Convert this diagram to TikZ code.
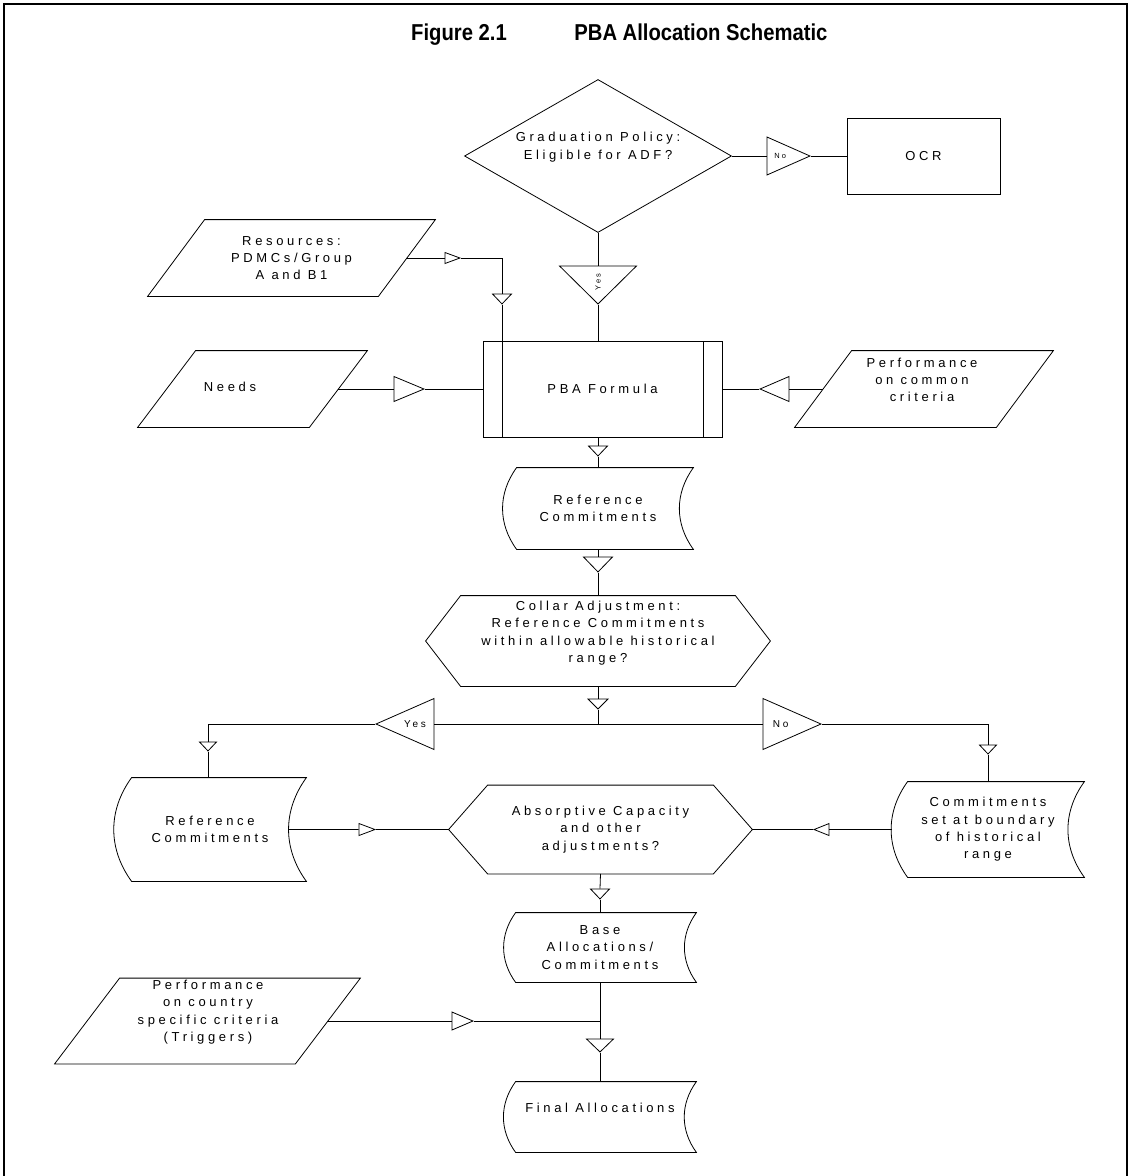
\documentclass[tikz,border=0pt]{standalone}
\usepackage{fontspec}
\setmainfont{Liberation Sans}
\newfontfamily\boxfont{Liberation Sans}[LetterSpace=28]
\newfontfamily\titlefont{Liberation Sans}[FakeStretch=0.88]
\usetikzlibrary{shapes.geometric}

\newcommand{\midlbl}{\boxfont\fontsize{10}{12}\selectfont}
\newcommand{\tinylbl}{\boxfont\fontsize{7.5}{9}\selectfont}
% stored data outline (node, bulge)
\newcommand{\storedbox}[2]{%
  \draw ([xshift=#2pt]#1.north west) to[bend right=36] ([xshift=#2pt]#1.south west)
    -- (#1.south east) to[bend left=36] coordinate[pos=.5] (#1-r) (#1.north east) -- cycle;}
% slanted data outline (node, slant)
\newcommand{\slantbox}[2]{%
  \draw (#1.south west) -- coordinate[pos=.5] (#1-l) ([xshift=#2pt]#1.north west)
    -- (#1.north east) -- coordinate[pos=.5] (#1-r) ([xshift=-#2pt]#1.south east) -- cycle;}
% hexagon outline (node, point depth)
\newcommand{\hexbox}[2]{%
  \draw (#1.west) -- ([xshift=#2pt]#1.north west) -- ([xshift=-#2pt]#1.north east)
    -- (#1.east) -- ([xshift=-#2pt]#1.south east) -- ([xshift=#2pt]#1.south west) -- cycle;}

\begin{document}
\begin{tikzpicture}[x=1pt,y=-1pt,line width=0.8pt,
  every node/.style={inner sep=0pt},
  txt/.style={font=\boxfont\fontsize{13}{17.3}\selectfont, align=center},
  plainbox/.style={txt, draw},
  process/.style={txt, draw, path picture={
    \draw ([xshift=19pt]path picture bounding box.north west) -- ([xshift=19pt]path picture bounding box.south west);
    \draw ([xshift=-19pt]path picture bounding box.north east) -- ([xshift=-19pt]path picture bounding box.south east);}},
  tri/.style={draw, fill=white, isosceles triangle, isosceles triangle stretches, inner sep=0pt},
  tri right/.style={tri, shape border rotate=0},
  tri left/.style={tri, shape border rotate=180},
  tri down/.style={tri, shape border rotate=270},
  figtitle/.style={font=\titlefont\bfseries\fontsize{23}{27}\selectfont}]
\useasboundingbox (0,0) rectangle (1130,1176);
\draw[line width=1.6pt] (4,1176) -- (4,4) -- (1127,4) -- (1127,1176);

\node[figtitle, anchor=base] (fig) at (459,40) {Figure 2.1};
\node[figtitle, anchor=base west] (ttl) at (574,40) {PBA Allocation Schematic};

% eligibility
\node[diamond, draw, minimum width=267pt, minimum height=153pt] (grad) at (598,156) {};
\node[txt] (gradtxt) at (598,147) {Graduation Policy:\\Eligible for ADF?};
\node[tri right, minimum width=38pt, minimum height=43pt, anchor=apex, font=\tinylbl] (no1) at (811,156) {No};
\node[plainbox, minimum width=153pt, minimum height=76pt] (ocr) at (923.5,156) {OCR};
\node[tri down, minimum width=77pt, minimum height=38pt, anchor=apex, font=\tinylbl] (yes1) at (598,305) {\rotatebox{90}{Yes}};

% inputs to the formula
\node[txt, minimum width=287pt, minimum height=76pt] (res) at (291.5,258) {Resources:\\PDMCs/Group\\A and B1};
\slantbox{res}{57}
\node[tri right, minimum width=11pt, minimum height=15pt, anchor=apex] (tres) at (461,258) {};
\node[tri down, minimum width=19pt, minimum height=10pt, anchor=apex] (tres2) at (502,305) {};

\node[process, minimum width=239pt, minimum height=96pt] (pba) at (602.5,389) {PBA Formula};

\node[minimum width=229pt, minimum height=76pt] (needs) at (252.5,389) {};
\slantbox{needs}{58}
\node[txt] (needstxt) at (230,387) {Needs};
\node[tri right, minimum width=25pt, minimum height=30pt, anchor=apex] (tneeds) at (425,389) {};

\node[minimum width=258pt, minimum height=76pt] (perf) at (924,389) {};
\slantbox{perf}{57}
\node[txt] (perftxt) at (922,380) {Performance\\on common\\criteria};
\node[tri left, minimum width=25pt, minimum height=29pt, anchor=apex] (tperf) at (759,389) {};

% reference and collar
\node[tri down, minimum width=19pt, minimum height=10pt, anchor=apex] (t1) at (598,457) {};
\node[txt, minimum width=190pt, minimum height=81pt] (refc) at (598,508.5) {Reference\\Commitments};
\storedbox{refc}{14}
\node[tri down, minimum width=29pt, minimum height=15pt, anchor=apex] (t2) at (598,573) {};
\node[minimum width=344pt, minimum height=90pt] (collar) at (598,641) {};
\hexbox{collar}{35}
\node[txt] (collartxt) at (598,633) {Collar Adjustment:\\Reference Commitments\\within allowable historical\\range?};
\node[tri down, minimum width=20pt, minimum height=10pt, anchor=apex] (t3) at (598,710) {};
\coordinate (split) at (598,724);
\node[tri left, minimum width=51pt, minimum height=58pt, anchor=apex, font=\midlbl] (yes2) at (375,724) {Yes};
\node[tri right, minimum width=51pt, minimum height=58pt, anchor=apex, font=\midlbl] (no2) at (822,724) {No};
\node[tri down, minimum width=17pt, minimum height=9pt, anchor=apex] (t4) at (208,752) {};
\node[tri down, minimum width=17pt, minimum height=9pt, anchor=apex] (t5) at (988,755) {};

% adjustments
\node[txt, minimum width=192pt, minimum height=103pt] (refc2) at (210,829.5) {Reference\\Commitments};
\storedbox{refc2}{18}
\node[minimum width=303pt, minimum height=88pt, txt] (abs) at (600.5,829.5) {Absorptive Capacity\\and other\\adjustments?};
\hexbox{abs}{39}
\node[txt, minimum width=192pt, minimum height=95pt] (bound) at (988,829.5) {Commitments\\set at boundary\\of historical\\range};
\storedbox{bound}{16}
\node[tri right, minimum width=12pt, minimum height=16pt, anchor=apex] (t6) at (376,829.5) {};
\node[tri left, minimum width=12pt, minimum height=15pt, anchor=apex] (t7) at (813,829.5) {};

% allocations
\node[tri down, minimum width=19pt, minimum height=10pt, anchor=apex] (t8) at (600,900) {};
\node[txt, minimum width=192pt, minimum height=69pt] (base) at (600,947.5) {Base\\Allocations/\\Commitments};
\storedbox{base}{12}
\node[minimum width=305pt, minimum height=85pt] (trig) at (207.5,1021) {};
\slantbox{trig}{65}
\node[txt] (trigtxt) at (208,1012) {Performance\\on country\\specific criteria\\(Triggers)};
\node[tri right, minimum width=18pt, minimum height=21pt, anchor=apex] (ttrig) at (474,1021) {};
\node[tri down, minimum width=27pt, minimum height=13pt, anchor=apex] (t9) at (600,1053) {};
\node[minimum width=192pt, minimum height=70pt] (final) at (600,1117) {};
\storedbox{final}{12}
\node[txt] (finaltxt) at (600,1108) {Final Allocations};

% connectors
\draw (grad.east) -- (no1.lower side);
\draw (no1.apex) -- (ocr.west);
\draw (grad.south) -- (yes1.lower side);
\draw (yes1.apex) -- (yes1.apex |- pba.north);
\draw (res-r) -- (tres.lower side);
\draw (tres.apex) -| (tres2.lower side);
\draw (tres2.apex) -- (tres2.apex |- pba.north);
\draw (needs-r) -- (tneeds.lower side);
\draw (tneeds.apex) -- (pba.west);
\draw (perf-l) -- (tperf.lower side);
\draw (tperf.apex) -- (pba.east);
\draw (t1.lower side |- pba.south) -- (t1.lower side);
\draw (t1.apex) -- (refc.north);
\draw (refc.south) -- (t2.lower side);
\draw (t2.apex) -- (collar.north);
\draw (collar.south) -- (t3.lower side);
\draw (t3.apex) -- (split);
\draw (yes2.lower side) -- (no2.lower side);
\draw (yes2.apex) -| (t4.lower side);
\draw (t4.apex) -- (t4.apex |- refc2.north);
\draw (no2.apex) -| (t5.lower side);
\draw (t5.apex) -- (bound.north);
\draw (refc2-r) -- (t6.lower side);
\draw (t6.apex) -- (abs.west);
\draw (bound.west) -- (t7.lower side);
\draw (t7.apex) -- (abs.east);
\draw (abs.south) -- (t8.lower side);
\draw (t8.apex) -- (base.north);
\draw (base.south) -- (t9.lower side);
\draw (t9.apex) -- (final.north);
\draw (trig-r) -- (ttrig.lower side);
\draw (ttrig.apex) -- (ttrig.apex -| base.south);
\end{tikzpicture}
\end{document}
